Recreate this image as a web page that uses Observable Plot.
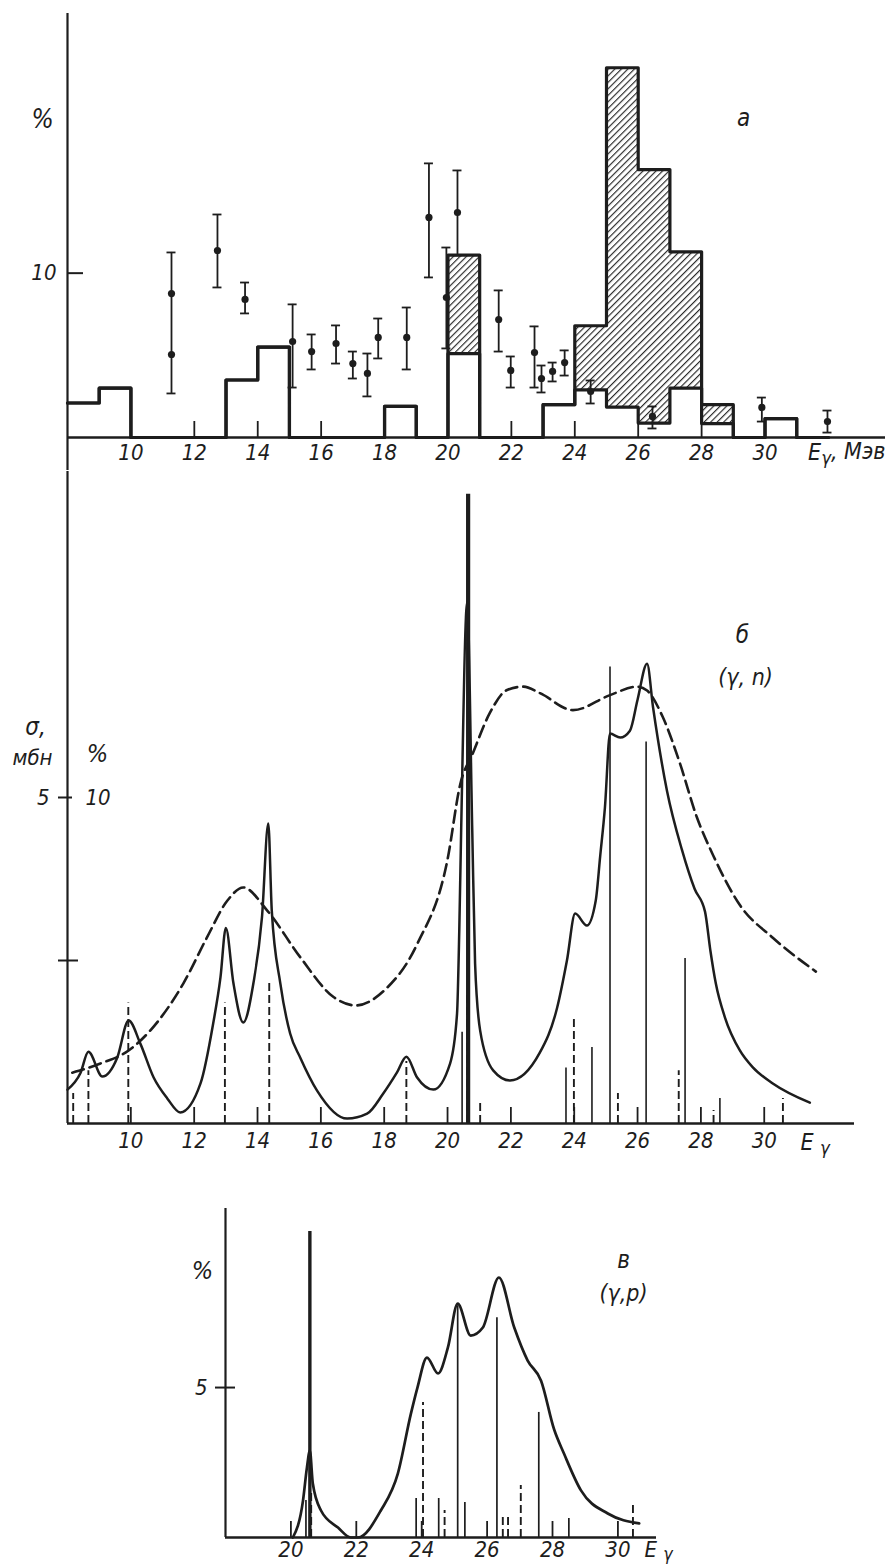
<!DOCTYPE html>
<html><head><meta charset="utf-8">
<script src="https://cdn.jsdelivr.net/npm/d3@7"></script>
<script src="https://cdn.jsdelivr.net/npm/@observablehq/plot@0.6"></script>
<style>
body{margin:0;background:#fff;}
#wrap{position:relative;width:890px;height:1568px;overflow:hidden;}
#wrap > div{position:absolute;left:0;}
svg{overflow:visible;}
</style></head>
<body>
<div id="wrap"><div id="pa" style="top:0"></div><div id="pb" style="top:470px"></div><div id="pc" style="top:1170px"></div></div>
<script>
// ---------------- Panel а : histograms (%) and measured points ----------------
const binStarts = [8, 9, 10, 11, 12, 13, 14, 15, 16, 17, 18, 19, 20, 21, 22, 23, 24, 25, 26, 27, 28, 29, 30, 31];
const binLower  = [2.1, 3.0, 0, 0, 0, 3.5, 5.5, 0, 0, 0, 1.9, 0, 5.1, 0, 0, 2.0, 2.9, 1.85, 0.88, 3.0, 0.85, 0, 1.15, 0];
const binTotal  = [2.1, 3.0, 0, 0, 0, 3.5, 5.5, 0, 0, 0, 1.9, 0, 11.1, 0, 0, 2.0, 6.8, 22.5, 16.3, 11.3, 2.0, 0, 1.15, 0];

const ptE   = [11.28, 11.28, 12.73, 13.6, 15.1, 15.7, 16.47, 17.0, 17.46, 17.8, 18.7, 19.4, 19.95, 20.3, 21.6, 21.98, 22.73, 22.95, 23.3, 23.68, 24.5, 26.45, 29.9, 31.97];
const ptVal = [8.76, 5.05, 11.38, 8.4, 5.84, 5.23, 5.72, 4.5, 3.9, 6.09, 6.09, 13.39, 8.52, 13.69, 7.18, 4.08, 5.17, 3.59, 4.02, 4.56, 2.8, 1.28, 1.83, 0.97];
const ptLo  = [2.68, null, 9.13, 7.55, 3.04, 4.14, 4.5, 3.59, 2.5, 4.81, 4.14, 9.74, 5.42, 11.08, 5.23, 3.04, 3.04, 2.74, 3.41, 3.77, 2.07, 0.55, 0.97, 0.3];
const ptHi  = [11.26, null, 13.57, 9.43, 8.1, 6.27, 6.82, 5.23, 5.11, 7.24, 7.91, 16.68, 11.56, 16.25, 8.95, 4.93, 6.76, 4.38, 4.56, 5.3, 3.47, 1.89, 2.43, 1.64];

const ticksA = [10, 12, 14, 16, 18, 20, 22, 24, 26, 28, 30];
const yTicksA = [10];

// ---------------- Panel б : (γ,n) ----------------
const solidBE   = [8.0, 8.41, 8.66, 9.1, 9.57, 9.93, 10.3, 10.72, 11.15, 11.56, 12.2, 12.6, 12.83, 13.0, 13.24, 13.55, 13.87, 14.14, 14.34, 14.45, 14.72, 15.03, 15.35, 15.88, 16.83, 17.46, 17.97, 18.4, 18.7, 19.04, 19.55, 20.08, 20.3, 20.37, 20.43, 20.62, 20.78, 20.87, 21.03, 21.44, 21.97, 22.9, 23.46, 23.77, 24.03, 24.4, 24.68, 24.82, 24.97, 25.13, 25.45, 25.76, 26.0, 26.3, 26.49, 26.93, 27.4, 27.8, 28.13, 28.3, 28.47, 28.76, 29.23, 29.64, 30.27, 31.44];
const solidBPct = [1.04, 1.55, 2.2, 1.44, 2.02, 3.16, 2.45, 1.41, 0.77, 0.34, 1.23, 3.07, 4.48, 6.0, 4.3, 3.1, 4.3, 6.32, 9.2, 6.53, 4.3, 2.76, 2.02, 1.01, 0.15, 0.3, 0.92, 1.56, 2.05, 1.41, 1.04, 1.84, 3.37, 5.9, 9.0, 16.0, 9.0, 4.9, 2.85, 1.63, 1.32, 2.15, 3.55, 5.0, 6.44, 6.07, 6.84, 8.2, 9.7, 11.96, 11.84, 12.05, 13.0, 14.1, 12.76, 10.2, 8.4, 7.2, 6.5, 5.3, 4.3, 3.25, 2.24, 1.72, 1.23, 0.64];

const sigmaE   = [8.15, 9.04, 9.93, 10.62, 11.66, 12.4, 13.05, 13.55, 14.3, 15.35, 16.4, 17.1, 18.0, 19.05, 20.0, 20.4, 20.8, 21.34, 21.88, 22.4, 22.92, 23.96, 25.13, 25.98, 26.3, 26.8, 27.34, 27.87, 28.4, 29.23, 30.27, 31.63];
const sigmaMbn = [0.78, 0.92, 1.12, 1.43, 2.15, 2.85, 3.42, 3.62, 3.27, 2.55, 1.94, 1.81, 2.04, 2.76, 4.05, 5.2, 5.68, 6.3, 6.65, 6.7, 6.6, 6.34, 6.57, 6.7, 6.64, 6.23, 5.52, 4.7, 4.1, 3.35, 2.85, 2.33];
const pctPerMbn = 2; // 5 мбн on the left scale = 10 % on the right scale

const lvlBSolidE   = [20.46, 23.74, 24.56, 25.13, 26.27, 27.5, 28.6];
const lvlBSolidPct = [2.8, 1.7, 2.33, 14.0, 11.7, 5.06, 0.77];
const lvlBDashE    = [8.18, 8.66, 9.92, 12.97, 14.37, 18.7, 20.62, 21.03, 23.99, 25.38, 27.3, 28.4, 30.59];
const lvlBDashPct  = [0.92, 1.62, 3.7, 3.7, 4.3, 1.9, 4.0, 0.65, 3.2, 0.92, 1.62, 0.4, 0.77];
const lvlBStrongE   = [20.65];
const lvlBStrongPct = [19.3];

const ticksB = [10, 12, 14, 16, 18, 20, 22, 24, 26, 28, 30];

// ---------------- Panel в : (γ,p) ----------------
const curveCE   = [20.06, 20.37, 20.49, 20.58, 20.67, 20.92, 21.44, 21.83, 22.05, 22.75, 23.27, 23.67, 23.87, 24.16, 24.5, 24.8, 25.1, 25.5, 25.87, 26.36, 26.83, 27.24, 27.65, 28.05, 28.35, 28.87, 29.69, 30.65];
const curveCPct = [0, 1.23, 2.33, 2.9, 1.8, 0.9, 0.33, 0, 0, 0.9, 2.13, 4.13, 5.0, 6.0, 5.47, 6.33, 7.8, 6.73, 7.0, 8.67, 7.0, 5.9, 5.23, 3.6, 2.8, 1.57, 0.8, 0.47];

const lvlCSolidE   = [20.46, 23.83, 24.52, 25.1, 25.32, 26.3, 27.58, 28.5];
const lvlCSolidPct = [1.23, 1.3, 1.3, 7.73, 1.17, 7.33, 4.17, 0.63];
const lvlCDashE    = [20.62, 24.04, 24.7, 26.48, 26.64, 27.03, 30.46];
const lvlCDashPct  = [1.57, 4.5, 0.9, 0.67, 0.67, 1.73, 1.13];
const lvlCStrongE   = [20.58];
const lvlCStrongPct = [10.2];

const ticksC = [20, 22, 24, 26, 28, 30];

// ---------------- drawing ----------------
const INK = "#1d1d1d";
const FONT = "'Liberation Sans Narrow', 'DejaVu Sans Condensed', 'Liberation Sans', sans-serif";
const baseStyle = {fontFamily: FONT, fontSize: "22px", fontStyle: "italic", color: INK, background: "transparent", overflow: "visible"};
const zip = (xs, ys) => xs.map((x, i) => ({x, y: ys[i]}));
const txt = d => d;
const lab = (s, dx, dy, fontSize) => Plot.text([s], {text: txt, frameAnchor: "top-left", textAnchor: "middle", lineAnchor: "middle", dx, dy, fontSize, fill: INK});

// Panel а data tables
const stepX = [...binStarts, binStarts[binStarts.length - 1] + 1];
const lowerStep = stepX.map((x, i) => ({x, y: i < binLower.length ? binLower[i] : 0}));
const totalStep = stepX.map((x, i) => ({x, y: i < binTotal.length ? binTotal[i] : 0}));
const hatchBins = binStarts.map((x, i) => ({x0: x, x1: x + 1, lo: binLower[i], hi: binTotal[i]})).filter(d => d.hi > d.lo);
const pts = ptE.map((x, i) => ({x, y: ptVal[i], lo: ptLo[i], hi: ptHi[i]}));
const bars = pts.filter(d => d.lo != null);

const plotA = Plot.plot({
  width: 890, height: 470, marginLeft: 67, marginRight: 5, marginTop: 13, marginBottom: 33,
  x: {domain: [8, 33.8]}, y: {domain: [0, 25.8]},
  style: baseStyle,
  marks: [
    Plot.rect(hatchBins, {x1: "x0", x2: "x1", y1: "lo", y2: "hi", fill: "url(#hatchA)"}),
    Plot.line(lowerStep, {x: "x", y: "y", curve: "step-after", stroke: INK, strokeWidth: 3.2}),
    Plot.line(totalStep, {x: "x", y: "y", curve: "step-after", stroke: INK, strokeWidth: 3.2}),
    Plot.ruleX(bars, {x: "x", y1: "lo", y2: "hi", stroke: INK, strokeWidth: 1.8}),
    Plot.ruleY(bars, {y: "lo", x1: "x", x2: "x", insetLeft: -4.5, insetRight: -4.5, stroke: INK, strokeWidth: 1.8}),
    Plot.ruleY(bars, {y: "hi", x1: "x", x2: "x", insetLeft: -4.5, insetRight: -4.5, stroke: INK, strokeWidth: 1.8}),
    Plot.dot(pts, {x: "x", y: "y", r: 3.6, fill: INK, stroke: "none"}),
    Plot.ruleX([8], {insetBottom: -33, stroke: INK, strokeWidth: 2.2}),
    Plot.ruleY([0], {stroke: INK, strokeWidth: 2.4}),
    Plot.axisX({ticks: ticksA, tickSize: 16, dy: -16, fill: "none", label: null, stroke: INK, strokeWidth: 1.8}),
    Plot.axisX({ticks: ticksA, tickSize: 0, tickPadding: 7, label: null, fill: INK}),
    Plot.axisY({ticks: yTicksA, tickSize: 16, dx: 16, fill: "none", label: null, stroke: INK, strokeWidth: 2}),
    Plot.axisY({ticks: yTicksA, tickSize: 0, tickPadding: 11, label: null, fill: INK}),
    lab("%", -25, 106, 26),
    lab("а", 676, 105, 24),
    Plot.text(["Eγ, Мэв"], {text: txt, frameAnchor: "bottom-right", textAnchor: "end", lineAnchor: "middle", dy: 15, fontSize: 23, fill: INK})
  ]
});

// Panel б
const plotB = Plot.plot({
  width: 890, height: 700, marginLeft: 67, marginRight: 36, marginTop: 1, marginBottom: 47,
  x: {domain: [8, 32.85]}, y: {domain: [0, 20]},
  style: baseStyle,
  marks: [
    Plot.ruleX(zip(lvlBDashE, lvlBDashPct), {x: "x", y1: 0, y2: "y", stroke: INK, strokeWidth: 1.9, strokeDasharray: "8,4"}),
    Plot.ruleX(zip(lvlBSolidE, lvlBSolidPct), {x: "x", y1: 0, y2: "y", stroke: INK, strokeWidth: 1.6}),
    Plot.ruleX(zip(lvlBStrongE, lvlBStrongPct), {x: "x", y1: 0, y2: "y", stroke: INK, strokeWidth: 4.2}),
    Plot.line(zip(sigmaE, sigmaMbn), {x: "x", y: d => d.y * pctPerMbn, curve: "monotone-x", stroke: INK, strokeWidth: 2.6, strokeDasharray: "12,6"}),
    Plot.line(zip(solidBE, solidBPct), {x: "x", y: "y", curve: "monotone-x", stroke: INK, strokeWidth: 2.5}),
    Plot.ruleX([8], {stroke: INK, strokeWidth: 2.2}),
    Plot.ruleY([0], {stroke: INK, strokeWidth: 2.4}),
    Plot.axisX({ticks: ticksB, tickSize: 16, dy: -16, fill: "none", label: null, stroke: INK, strokeWidth: 1.8}),
    Plot.axisX({ticks: ticksB, tickSize: 0, tickPadding: 9, label: null, fill: INK}),
    Plot.axisY({ticks: [10], tickSize: 14, dx: 5, fill: "none", label: null, stroke: INK, strokeWidth: 2}),
    Plot.axisY({ticks: [5], tickSize: 20, dx: 11, fill: "none", label: null, stroke: INK, strokeWidth: 2}),
    Plot.axisY({ticks: [10], tickSize: 0, tickPadding: 18, label: null, fill: INK, tickFormat: d => String(d / pctPerMbn)}),
    Plot.text([10], {y: d => d, text: d => String(d), frameAnchor: "left", textAnchor: "start", lineAnchor: "middle", dx: 18, fill: INK}),
    lab("σ,", -32, 256, 24),
    lab("мбн", -35, 286, 22),
    lab("%", 30, 282, 25),
    lab("б", 675, 164, 24),
    lab("(γ, n)", 678, 206, 23),
    Plot.text(["E γ"], {text: txt, frameAnchor: "bottom-right", textAnchor: "start", lineAnchor: "middle", dx: -54, dy: 19, fontSize: 23, fill: INK})
  ]
});

// Panel в
const plotC = Plot.plot({
  width: 890, height: 398, marginLeft: 225, marginRight: 234, marginTop: 38, marginBottom: 31,
  x: {domain: [18, 31.18]}, y: {domain: [0, 10.97]},
  style: baseStyle,
  marks: [
    Plot.ruleX(zip(lvlCDashE, lvlCDashPct), {x: "x", y1: 0, y2: "y", stroke: INK, strokeWidth: 1.9, strokeDasharray: "8,4"}),
    Plot.ruleX(zip(lvlCSolidE, lvlCSolidPct), {x: "x", y1: 0, y2: "y", stroke: INK, strokeWidth: 1.7}),
    Plot.ruleX(zip(lvlCStrongE, lvlCStrongPct), {x: "x", y1: 0, y2: "y", stroke: INK, strokeWidth: 3.4}),
    Plot.line(zip(curveCE, curveCPct), {x: "x", y: "y", curve: "monotone-x", stroke: INK, strokeWidth: 2.7}),
    Plot.ruleX([18], {stroke: INK, strokeWidth: 2.2}),
    Plot.ruleY([0], {stroke: INK, strokeWidth: 2.4}),
    Plot.axisX({ticks: ticksC, tickSize: 16, dy: -16, fill: "none", label: null, stroke: INK, strokeWidth: 1.8}),
    Plot.axisX({ticks: ticksC, tickSize: 0, tickPadding: 4, label: null, fill: INK}),
    Plot.axisY({ticks: [5], tickSize: 20, dx: 10, fill: "none", label: null, stroke: INK, strokeWidth: 2}),
    Plot.axisY({ticks: [5], tickSize: 0, tickPadding: 18, label: null, fill: INK}),
    lab("%", -23, 62, 25),
    lab("в", 398, 52, 24),
    lab("(γ,p)", 398, 85, 23),
    Plot.text(["E γ"], {text: txt, frameAnchor: "bottom-right", textAnchor: "start", lineAnchor: "middle", dx: -12, dy: 12, fontSize: 22, fill: INK})
  ]
});

// hatch pattern for panel а
const defs = d3.select(plotA).insert("defs", ":first-child");
defs.append("pattern").attr("id", "hatchA").attr("patternUnits", "userSpaceOnUse")
  .attr("width", 4.6).attr("height", 4.6).attr("patternTransform", "rotate(45)")
  .append("line").attr("x1", 0.6).attr("y1", 0).attr("x2", 0.6).attr("y2", 4.6)
  .attr("stroke", INK).attr("stroke-width", 1.1);

// subscript γ in the energy labels
function subscriptGamma(svg) {
  svg.querySelectorAll("text").forEach(t => {
    const s = t.textContent;
    if (/^E ?γ/.test(s)) {
      const m = s.match(/^(E ?)(γ)(.*)$/);
      t.textContent = "";
      const ns = "http://www.w3.org/2000/svg";
      const a = document.createElementNS(ns, "tspan"); a.textContent = m[1].trim(); t.appendChild(a);
      const b = document.createElementNS(ns, "tspan"); b.textContent = m[2];
      b.setAttribute("dy", "0.22em"); b.setAttribute("font-size", "0.8em");
      if (m[1].length > 1) b.setAttribute("dx", "0.35em");
      t.appendChild(b);
      if (m[3]) { const c = document.createElementNS(ns, "tspan"); c.textContent = m[3]; c.setAttribute("dy", "-0.22em"); t.appendChild(c); }
    }
  });
}
[plotA, plotB, plotC].forEach(subscriptGamma);

document.getElementById("pa").appendChild(plotA);
document.getElementById("pb").appendChild(plotB);
document.getElementById("pc").appendChild(plotC);
</script>
</body></html>
